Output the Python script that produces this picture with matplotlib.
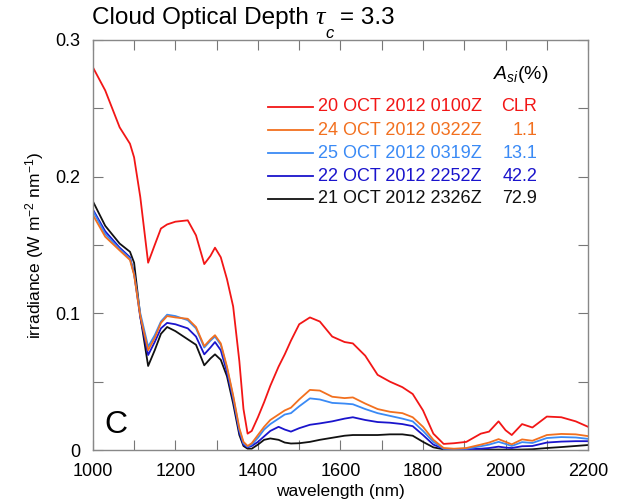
import numpy as np
import matplotlib
matplotlib.use("Agg")
import matplotlib.pyplot as plt
from matplotlib.ticker import MultipleLocator

plt.rcParams['font.family'] = ['Liberation Sans', 'DejaVu Sans']
plt.rcParams['mathtext.fontset'] = 'custom'
plt.rcParams['mathtext.rm'] = 'Liberation Sans'
plt.rcParams['mathtext.it'] = 'Liberation Sans:italic'

# spectral irradiance (W m-2 nm-1) below cloud, tau_c = 3.3
wavelength = [1000, 1030, 1065, 1090, 1100, 1115, 1134, 1150, 1165, 1180,
              1200, 1230, 1250, 1270, 1285, 1296, 1310, 1325, 1340, 1355,
              1365, 1375, 1385, 1400, 1415, 1430, 1450, 1465, 1480, 1500,
              1526, 1550, 1580, 1610, 1630, 1660, 1690, 1720, 1750, 1775,
              1800, 1825, 1850, 1875, 1905, 1940, 1960, 1983, 2000, 2015,
              2040, 2065, 2100, 2135, 2170, 2200]

oct20 = [0.280, 0.263, 0.236, 0.224, 0.214, 0.185, 0.137, 0.150, 0.162, 0.165,
         0.167, 0.168, 0.157, 0.136, 0.142, 0.148, 0.141, 0.125, 0.105, 0.065,
         0.030, 0.012, 0.014, 0.024, 0.035, 0.047, 0.061, 0.070, 0.080, 0.092,
         0.097, 0.094, 0.083, 0.079, 0.078, 0.069, 0.055, 0.050, 0.046, 0.041,
         0.029, 0.012, 0.0045, 0.005, 0.006, 0.012, 0.0135, 0.021, 0.0145, 0.011,
         0.019, 0.0165, 0.0245, 0.024, 0.021, 0.017]

oct24 = [0.172, 0.156, 0.146, 0.139, 0.128, 0.098, 0.073, 0.082, 0.093, 0.098,
         0.097, 0.096, 0.090, 0.076, 0.081, 0.084, 0.078, 0.061, 0.040, 0.016,
         0.006, 0.003, 0.005, 0.011, 0.017, 0.022, 0.026, 0.029, 0.031, 0.037,
         0.044, 0.0435, 0.039, 0.038, 0.0385, 0.034, 0.030, 0.028, 0.027, 0.024,
         0.017, 0.0075, 0.0015, 0.001, 0.0015, 0.004, 0.0055, 0.008, 0.006, 0.0042,
         0.0078, 0.0068, 0.011, 0.0118, 0.0115, 0.0102]

oct25 = [0.175, 0.158, 0.147, 0.140, 0.129, 0.100, 0.0756, 0.084, 0.094, 0.099,
         0.098, 0.095, 0.089, 0.075, 0.080, 0.083, 0.077, 0.060, 0.039, 0.015,
         0.005, 0.0025, 0.004, 0.009, 0.015, 0.019, 0.023, 0.026, 0.027, 0.032,
         0.0378, 0.037, 0.0345, 0.034, 0.0335, 0.030, 0.027, 0.025, 0.023, 0.021,
         0.014, 0.006, 0.001, 0.0008, 0.001, 0.0028, 0.004, 0.006, 0.0045, 0.003,
         0.0058, 0.0052, 0.0088, 0.0095, 0.0092, 0.0082]

oct22 = [0.176, 0.160, 0.148, 0.141, 0.129, 0.097, 0.0695, 0.079, 0.089, 0.093,
         0.092, 0.089, 0.083, 0.070, 0.075, 0.079, 0.073, 0.057, 0.037, 0.013,
         0.004, 0.002, 0.003, 0.006, 0.010, 0.014, 0.017, 0.015, 0.0135, 0.016,
         0.0185, 0.0195, 0.021, 0.023, 0.024, 0.022, 0.0205, 0.020, 0.019, 0.0175,
         0.011, 0.004, 0.001, 0.0005, 0.0005, 0.001, 0.0015, 0.0025, 0.0018, 0.0015,
         0.0028, 0.003, 0.0055, 0.0062, 0.0065, 0.0065]

oct21 = [0.182, 0.164, 0.151, 0.145, 0.137, 0.098, 0.0615, 0.073, 0.085, 0.090,
         0.087, 0.081, 0.077, 0.062, 0.067, 0.070, 0.066, 0.054, 0.034, 0.011,
         0.003, 0.001, 0.001, 0.004, 0.0075, 0.0085, 0.0075, 0.0055, 0.0048, 0.005,
         0.006, 0.0075, 0.009, 0.0105, 0.011, 0.011, 0.011, 0.0115, 0.0115, 0.0105,
         0.006, 0.002, 0.0005, 0.0003, 0.0003, 0.0003, 0.0003, 0.0004, 0.0003, 0.0003,
         0.0004, 0.0006, 0.0015, 0.0022, 0.003, 0.0037]

labels = ["20 OCT 2012 0100Z", "24 OCT 2012 0322Z", "25 OCT 2012 0319Z",
          "22 OCT 2012 2252Z", "21 OCT 2012 2326Z"]
ice_frac = ["CLR", "1.1", "13.1", "42.2", "72.9"]
colors = ["#f21616", "#f2701f", "#3a8af5", "#1a14cc", "#111111"]
series = [oct20, oct24, oct25, oct22, oct21]

fig = plt.figure(figsize=(6.23, 5.04), dpi=100)
ax = fig.add_axes([0.149, 0.107, 0.795, 0.814])

for y, c in zip(series[::-1], colors[::-1]):
    ax.plot(wavelength, y, color=c, lw=1.3)

ax.set_xlim(1000, 2200)
ax.set_ylim(0, 0.3)
ax.xaxis.set_major_locator(MultipleLocator(200))
ax.xaxis.set_minor_locator(MultipleLocator(100))
ax.yaxis.set_minor_locator(MultipleLocator(0.05))
ax.set_yticks([0, 0.1, 0.2, 0.3])
ax.set_yticklabels(["0", "0.1", "0.2", "0.3"])
ax.tick_params(which='both', direction='in', top=True, right=True,
               length=7, width=0.8, color='#777777', labelsize=13, pad=9)
for s in ax.spines.values():
    s.set_color('#888888')
    s.set_linewidth(1.0)

ax.set_xlabel("wavelength (nm)", fontsize=12.5, labelpad=3)
ax.set_ylabel(r"irradiance (W m$^{-2}$ nm$^{-1}$)", fontsize=12.5, labelpad=7)

# legend with sea-ice fraction column
row_y = [0.837, 0.780, 0.724, 0.668, 0.612]
for lab, frac, c, ry in zip(labels, ice_frac, colors, row_y):
    ax.plot([0.354, 0.444], [ry, ry], color=c, lw=1.3, transform=ax.transAxes)
    ax.text(0.455, ry, lab, color=c, fontsize=13, va='center',
            transform=ax.transAxes)
    ax.text(0.897, ry, frac, color=c, fontsize=13, va='center', ha='right',
            transform=ax.transAxes)
ax.text(0.808, 0.915, r"$A_{si}$(%)", fontsize=14, va='center',
        transform=ax.transAxes)

ax.text(0.024, 0.061, "C", fontsize=23, va='center', transform=ax.transAxes)

# title built piece by piece so the subscript can sit low under tau
renderer = fig.canvas.get_renderer()
to_fig = fig.transFigure.inverted()
base_y = 1 - 24 / 504
x = 92 / 623
t = fig.text(x, base_y, "Cloud Optical Depth ", fontsize=17.5, va='baseline')
x = to_fig.transform((t.get_window_extent(renderer).x1, 0))[0]
t = fig.text(x, base_y, "\u03c4", fontsize=19, va='baseline',
             family='Liberation Serif', style='italic')
bb = t.get_window_extent(renderer)
x = to_fig.transform((bb.x1, 0))[0]
t = fig.text(x, 1 - 34 / 504, "c", fontsize=12, va='center', style='italic')
bb = t.get_window_extent(renderer)
x = to_fig.transform((bb.x1 + 6, 0))[0]
fig.text(x, base_y, "= 3.3", fontsize=17.5, va='baseline')

fig.savefig("out.png", dpi=100)
